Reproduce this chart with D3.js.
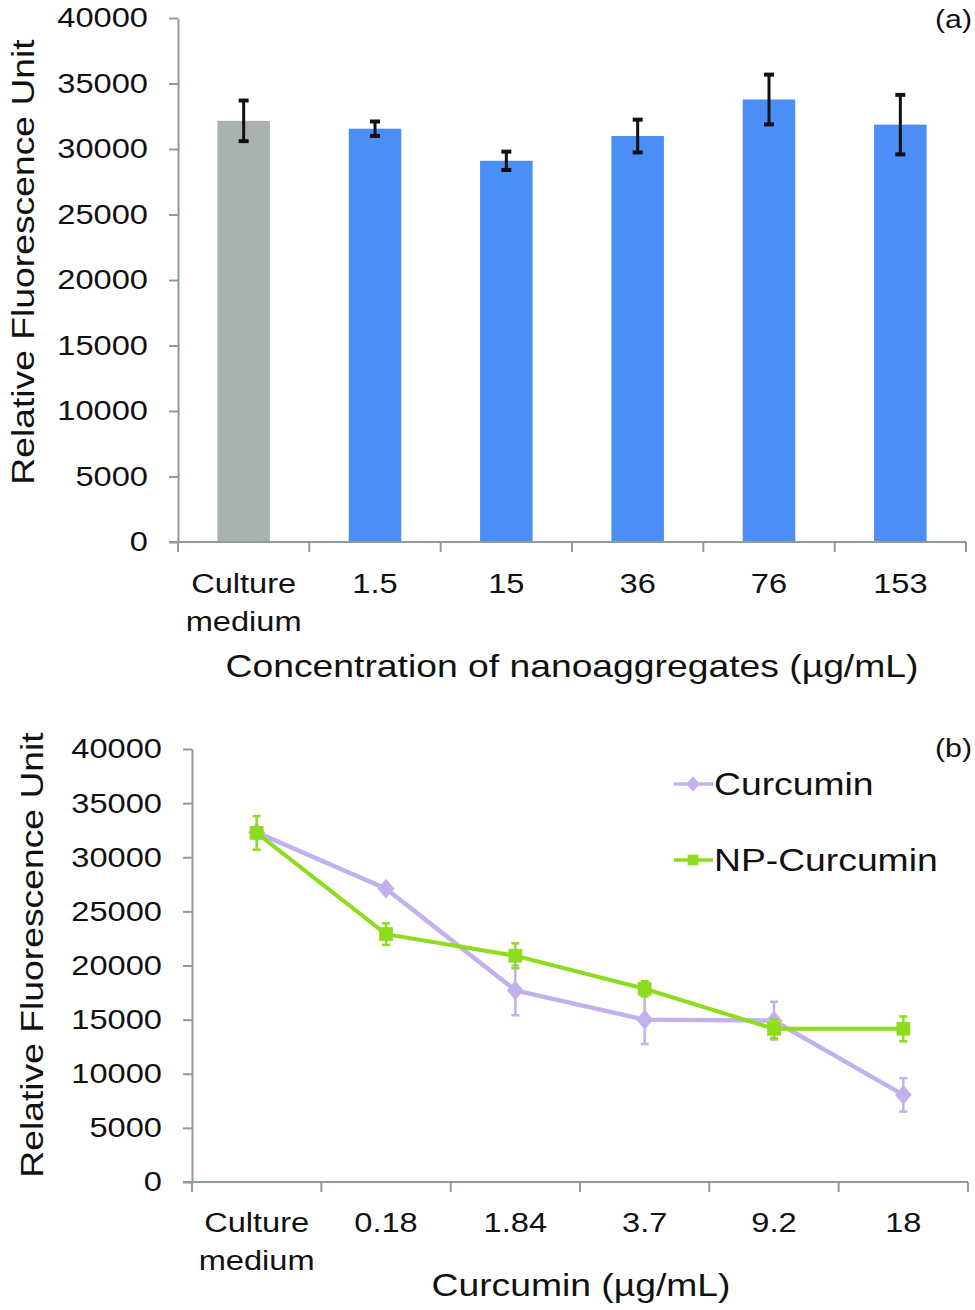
<!DOCTYPE html>
<html>
<head>
<meta charset="utf-8">
<script src="https://cdn.jsdelivr.net/npm/d3@7"></script>
<style>
  body { margin: 0; background: #fff; }
  svg text { font-family: "Liberation Sans", Arial, sans-serif; fill: #111; }
  .axis path, .axis line { stroke: #8e9c9c; stroke-width: 2; }
  .axis text { font-size: 28px; }
</style>
</head>
<body>
<div id="fig"></div>
<script>
// panel (a) data
var catsA = ["Culture\nmedium", "1.5", "15", "36", "76", "153"];
var meanA = [32150, 31550, 29100, 30990, 33780, 31860];
var errA = [1550, 550, 700, 1250, 1900, 2270];

// panel (b) data
var catsB = ["Culture\nmedium", "0.18", "1.84", "3.7", "9.2", "18"];
var curcumin = [32300, 27100, 17700, 15000, 14900, 8050];
var curcuminErr = [200, 200, 2300, 2250, 1750, 1550];
var npCurcumin = [32250, 22900, 20900, 17850, 14150, 14150];
var npCurcuminErr = [1550, 1000, 1150, 700, 850, 1150];

var yTicks = [0, 5000, 10000, 15000, 20000, 25000, 30000, 35000, 40000];

var width = 975, height = 1310;
// the figure's font is a wide Arial, so stretch text horizontally
var SX = 1.165;

var svg = d3.select("#fig").append("svg")
  .attr("width", width)
  .attr("height", height);

function txt(g, x, y, str, size, anchor, rot) {
  return g.append("text")
    .attr("transform", `translate(${x},${y})` + (rot ? ` rotate(${rot})` : "") + ` scale(${SX},1)`)
    .attr("text-anchor", anchor || "start")
    .style("font-size", size + "px")
    .text(str);
}

// category axis with ticks at band edges and 2-line labels
function catAxis(g, x, y0, cats, line1, line2) {
  var ax = g.append("g").attr("class", "axis");
  var r = x.range();
  ax.append("line").attr("x1", r[0] - 9).attr("x2", r[1]).attr("y1", y0).attr("y2", y0);
  var edges = d3.range(cats.length + 1).map(i => r[0] + i * x.step());
  ax.selectAll(".edge").data(edges).enter().append("line")
    .attr("x1", d => d).attr("x2", d => d)
    .attr("y1", y0).attr("y2", y0 + 10);
  cats.forEach(c => {
    c.split("\n").forEach((p, i) => {
      txt(ax, x(c) + x.bandwidth() / 2, i == 0 ? line1 : line2, p, 28, "middle");
    });
  });
}

function valAxis(g, y, x0) {
  var ax = g.append("g").attr("class", "axis")
    .attr("transform", `translate(${x0},0)`)
    .call(d3.axisLeft(y).tickValues(yTicks).tickSize(9).tickSizeOuter(0).tickFormat(d3.format("d")));
  ax.selectAll(".tick text")
    .attr("x", 0)
    .attr("fill", "#111")
    .attr("transform", `translate(-30,0) scale(${SX},1)`);
}

// ---------- panel (a) ----------
var xA = d3.scaleBand().domain(catsA).range([178, 966]);
var yA = d3.scaleLinear().domain([0, 40000]).range([542, 18]);
var barW = xA.bandwidth() * 0.4;

var gA = svg.append("g");
gA.selectAll(".bar").data(catsA).enter().append("rect")
  .attr("x", d => xA(d) + xA.bandwidth() / 2 - barW / 2)
  .attr("y", (d, i) => yA(meanA[i]))
  .attr("width", barW)
  .attr("height", (d, i) => yA(0) - yA(meanA[i]))
  .attr("fill", (d, i) => i == 0 ? "#a9b2b0" : "#4b8ef5");

valAxis(gA, yA, 178);
catAxis(gA, xA, 542, catsA, 593, 631);

var errG = gA.append("g").attr("stroke", "#111").attr("stroke-width", 3);
catsA.forEach((c, i) => {
  var cx = xA(c) + xA.bandwidth() / 2;
  errG.append("line").attr("x1", cx).attr("x2", cx)
    .attr("y1", yA(meanA[i] + errA[i])).attr("y2", yA(meanA[i] - errA[i]));
  [meanA[i] + errA[i], meanA[i] - errA[i]].forEach(v => {
    errG.append("line").attr("x1", cx - 5).attr("x2", cx + 5)
      .attr("y1", yA(v)).attr("y2", yA(v)).attr("stroke-width", 4);
  });
});

txt(gA, 34, 262, "Relative Fluorescence Unit", 32, "middle", -90);
txt(gA, 572, 677, "Concentration of nanoaggregates (µg/mL)", 32, "middle");
txt(gA, 972, 28, "(a)", 26, "end");

// ---------- panel (b) ----------
var xB = d3.scaleBand().domain(catsB).range([192, 968]);
var yB = d3.scaleLinear().domain([0, 40000]).range([1182, 749]);
var gB = svg.append("g");

valAxis(gB, yB, 192);
catAxis(gB, xB, 1182, catsB, 1232, 1270);

// Excel-like rhombus marker
var rhombus = {
  draw(ctx, size) {
    var h = Math.sqrt(size) * 0.72, w = h * 0.85;
    ctx.moveTo(0, -h); ctx.lineTo(w, 0); ctx.lineTo(0, h); ctx.lineTo(-w, 0); ctx.closePath();
  }
};

var series = [
  { name: "Curcumin", vals: curcumin, errs: curcuminErr, color: "#c3b1ef", shape: rhombus, size: 190, lw: 4.5 },
  { name: "NP-Curcumin", vals: npCurcumin, errs: npCurcuminErr, color: "#8edc1e", shape: d3.symbolSquare, size: 190, lw: 4 }
];
var cxB = c => xB(c) + xB.bandwidth() / 2;

series.forEach(s => {
  var g = gB.append("g");
  var eg = g.append("g").attr("stroke", s.color).attr("stroke-width", 2.5);
  catsB.forEach((c, i) => {
    var x = cxB(c);
    eg.append("line").attr("x1", x).attr("x2", x)
      .attr("y1", yB(s.vals[i] + s.errs[i])).attr("y2", yB(s.vals[i] - s.errs[i]));
    [s.vals[i] + s.errs[i], s.vals[i] - s.errs[i]].forEach(v => {
      eg.append("line").attr("x1", x - 4).attr("x2", x + 4).attr("y1", yB(v)).attr("y2", yB(v));
    });
  });
  var line = d3.line().x((d, i) => cxB(catsB[i])).y(d => yB(d));
  g.append("path").datum(s.vals).attr("d", line)
    .attr("fill", "none").attr("stroke", s.color).attr("stroke-width", s.lw);
  g.selectAll(".pt").data(s.vals).enter().append("path")
    .attr("d", d3.symbol().type(s.shape).size(s.size))
    .attr("transform", (d, i) => `translate(${cxB(catsB[i])},${yB(d)})`)
    .attr("fill", s.color);
});

// legend
var leg = gB.append("g");
series.forEach((s, i) => {
  var ly = 784 + i * 76;
  leg.append("line").attr("x1", 674).attr("x2", 713).attr("y1", ly).attr("y2", ly)
    .attr("stroke", s.color).attr("stroke-width", 3.5);
  leg.append("path").attr("d", d3.symbol().type(s.shape).size(s.size * 0.6))
    .attr("transform", `translate(693,${ly})`).attr("fill", s.color);
  txt(leg, 714, ly + 11, s.name, 32, "start");
});

txt(gB, 43, 955, "Relative Fluorescence Unit", 32, "middle", -90);
txt(gB, 581, 1296, "Curcumin (µg/mL)", 32, "middle");
txt(gB, 972, 757, "(b)", 26, "end");
</script>
</body>
</html>
